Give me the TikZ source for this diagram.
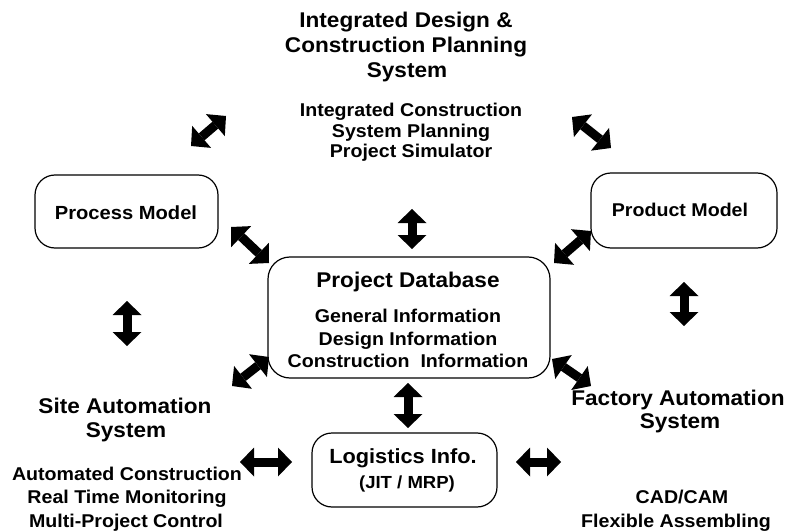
\documentclass[tikz,border=0pt]{standalone}
\usepackage{fontspec}
\setmainfont{Liberation Sans}[FakeStretch=1.06]
\usetikzlibrary{arrows.meta}
\begin{document}
\begin{tikzpicture}[x=1pt,y=-1pt,
  box/.style={draw, line width=1.2pt, rounded corners=20pt, inner sep=0pt},
  lg/.style={font=\bfseries\fontsize{21.3}{25}\selectfont, anchor=base, inner sep=0pt},
  md/.style={font=\bfseries\fontsize{18.5}{22}\selectfont, anchor=base, inner sep=0pt},
  dbl/.style={line width=9pt, {Triangle[width=29pt,length=14pt,line width=0pt]}-{Triangle[width=29pt,length=14pt,line width=0pt]}}
]
\fill[white] (0,0) rectangle (793,532);
\useasboundingbox (0,0) rectangle (793,532);

% boxes
\node[box, minimum width=183pt, minimum height=73pt] (proc) at (126.5,211.5) {};
\node[box, minimum width=186pt, minimum height=75pt] (prod) at (684,210.5) {};
\node[box, minimum width=282pt, minimum height=121pt, rounded corners=22pt] (db) at (409,317.5) {};
\node[box, minimum width=185pt, minimum height=74pt] (log) at (404.5,470) {};

% texts
\node[lg] (t1) at (406,28) {Integrated Design \&};
\node[lg] (t2) at (406,53) {Construction Planning};
\node[lg] (t3) at (407,78) {System};
\node[md] (s1) at (411,117) {Integrated Construction};
\node[md] (s2) at (411,138) {System Planning};
\node[md] (s3) at (411,158) {Project Simulator};

\node[md, font=\bfseries\fontsize{19}{22}\selectfont] (proct) at (126,219) {Process Model};
\node[md, font=\bfseries\fontsize{18.5}{22}\selectfont] (prodt) at (680,217) {Product Model};

\node[lg] (db1) at (408,287) {Project Database};
\node[md] (db2) at (408,322) {General Information};
\node[md] (db3) at (408,345) {Design Information};
\node[md] (db4) at (408,367) {Construction\ \ Information};

\node[lg, font=\bfseries\fontsize{20.5}{24}\selectfont] (lg1) at (403,463) {Logistics Info.};
\node[md, font=\bfseries\fontsize{17.5}{21}\selectfont] (lg2) at (407,488) {(JIT / MRP)};

\node[lg] (sa1) at (125,413) {Site Automation};
\node[lg] (sa2) at (126,437) {System};
\node[md] (sa3) at (127,480) {Automated Construction};
\node[md] (sa4) at (127,503) {Real Time Monitoring};
\node[md] (sa5) at (126,527) {Multi-Project Control};

\node[lg] (fa1) at (678,405) {Factory Automation};
\node[lg] (fa2) at (680,428) {System};
\node[md] (fa3) at (682,503) {CAD/CAM};
\node[md] (fa4) at (676,527) {Flexible Assembling};

% arrow end points
\coordinate (ula) at (191,146); \coordinate (ulb) at (226,116);
\coordinate (ura) at (572,117); \coordinate (urb) at (611,148);
\coordinate (pda) at (231,227); \coordinate (pdb) at (269,263);
\coordinate (rda) at (554,263); \coordinate (rdb) at (591,231);
\coordinate (lla) at (232,386); \coordinate (llb) at (269,357);
\coordinate (lra) at (552,359); \coordinate (lrb) at (591,386);
\coordinate (tva) at (412,209); \coordinate (tvb) at (412,249);
\coordinate (bva) at (408,383); \coordinate (bvb) at (408,428);
\coordinate (lva) at (127,301); \coordinate (lvb) at (127,346);
\coordinate (rva) at (684,282); \coordinate (rvb) at (684,326);
\coordinate (lha) at (240,462); \coordinate (lhb) at (292,462);
\coordinate (rha) at (516,462); \coordinate (rhb) at (561,462);

\foreach \a/\b in {ula/ulb, ura/urb, pda/pdb, rda/rdb, lla/llb, lra/lrb, tva/tvb, bva/bvb, lva/lvb, rva/rvb, lha/lhb, rha/rhb}
  \draw[dbl] (\a) -- (\b);
\end{tikzpicture}
\end{document}
